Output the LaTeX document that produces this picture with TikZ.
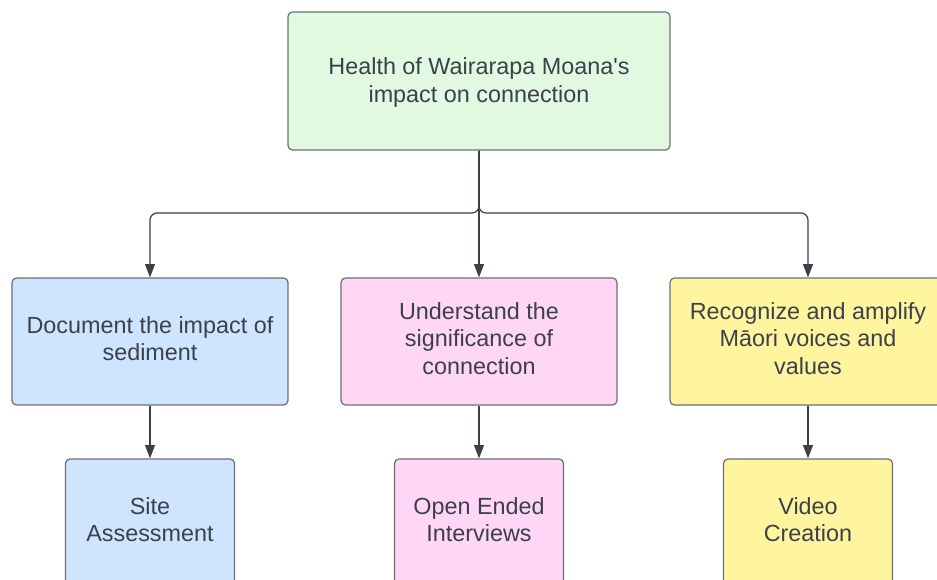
\documentclass[tikz,border=0pt]{standalone}
\usepackage{fontspec}
\setmainfont{Liberation Sans}
\usetikzlibrary{arrows.meta}
\definecolor{edge}{HTML}{6B6F75}
\definecolor{ink}{HTML}{3A414A}
\definecolor{fillgreen}{HTML}{E2F9E1}
\definecolor{fillblue}{HTML}{CFE4FF}
\definecolor{fillpink}{HTML}{FFD6F5}
\definecolor{fillyellow}{HTML}{FFF59F}
\tikzset{
  box/.style={draw=edge, line width=0.7pt, rounded corners=2.5pt, inner sep=0pt,
    align=center, text=ink, font=\fontsize{13.3}{15.9}\selectfont},
  topbox/.style={box, fill=fillgreen, minimum width=7.64cm, minimum height=2.76cm, text depth=1.2pt},
  midbox/.style={box, minimum width=5.52cm, minimum height=2.54cm, text depth=3.4pt},
  lowbox/.style={box, minimum width=3.38cm, minimum height=2.54cm, text depth=3.4pt},
  link/.style={draw=ink, line width=0.7pt, -{Triangle[length=7.5pt, width=5.6pt]}}
}
\begin{document}
\begin{tikzpicture}[x=0.02cm, y=-0.02cm]
	\useasboundingbox (0, 0) rectangle (937, 580);
	\clip (0, 0) rectangle (937, 580);
	
	\node[topbox] (health) at(479, 81) {Health of Wairarapa Moana\textquotesingle s\\impact on connection};
	
	\node[midbox, fill=fillblue] (document) at(150, 341.5) {Document the impact of\\sediment};
	\node[midbox, fill=fillpink] (understand) at(479, 341.5) {Understand the\\significance of\\connection};
	\node[midbox, fill=fillyellow] (recognize) at(808, 341.5) {Recognize and amplify\\Māori voices and\\values};
	
	\node[lowbox, fill=fillblue] (site) at(150, 522.5) {Site\\Assessment};
	\node[lowbox, fill=fillpink] (interviews) at(479, 522.5) {Open Ended\\Interviews};
	\node[lowbox, fill=fillyellow] (video) at(808, 522.5) {Video\\Creation};
	
	\coordinate (split) at(479, 213);
	\draw[link, rounded corners=4pt] (health.south) -- (split) -| (document.north);
	\draw[link, rounded corners=4pt] (health.south) -- (split) -| (recognize.north);
	\draw[link] (health.south) -- (understand.north);
	
	\draw[link] (document) -- (site);
	\draw[link] (understand) -- (interviews);
	\draw[link] (recognize) -- (video);
\end{tikzpicture}
\end{document}
